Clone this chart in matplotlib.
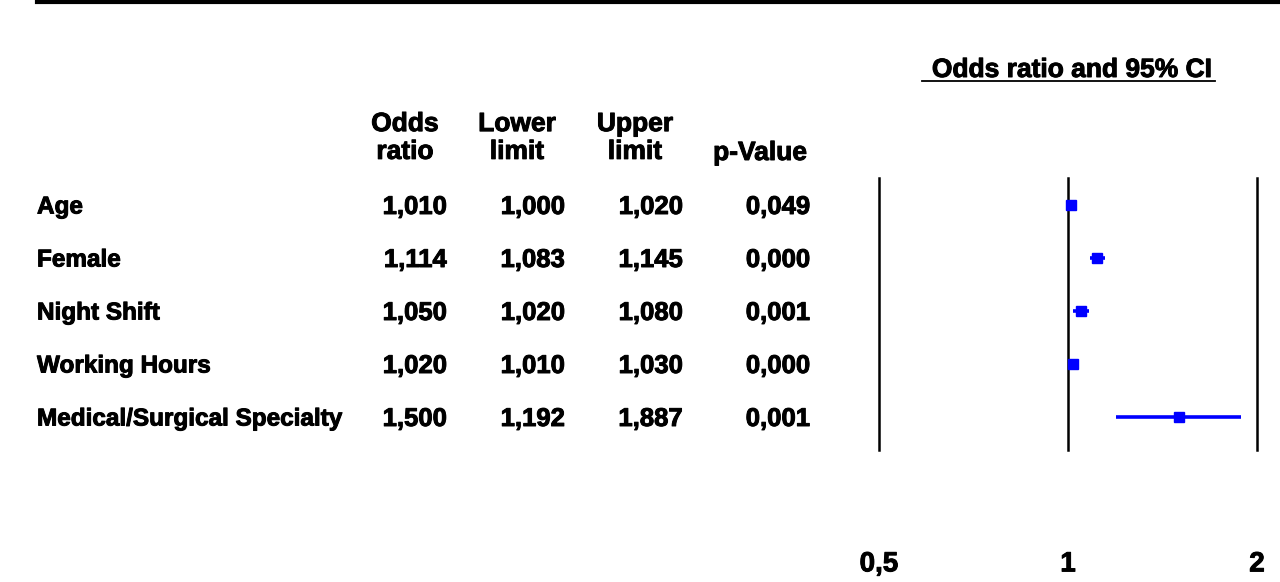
import matplotlib.pyplot as plt
import matplotlib.patheffects as pe

plt.rcParams['font.family'] = ['Liberation Sans', 'DejaVu Sans']
plt.rcParams['font.weight'] = 'bold'

# Data
variables = ["Age", "Female", "Night Shift", "Working Hours", "Medical/Surgical Specialty"]
odds_ratio = [1.010, 1.114, 1.050, 1.020, 1.500]
lower_limit = [1.000, 1.083, 1.020, 1.010, 1.192]
upper_limit = [1.020, 1.145, 1.080, 1.030, 1.887]
p_value = [0.049, 0.000, 0.001, 0.000, 0.001]
x_ticks = [0.5, 1, 2]
x_tick_labels = ["0,5", "1", "2"]


def fmt(v):
    return f"{v:.3f}".replace(".", ",")


W, H = 1280, 582
fig = plt.figure(figsize=(W / 100, H / 100), dpi=100)


def fx(px):
    return px / W


def fy(py):
    return 1 - py / H


fs_lab = 17.5
fs_num = 18.5
fs_head = 19
heavy = [pe.withStroke(linewidth=0.7, foreground='black')]

# top rule
fig.add_artist(plt.Line2D([fx(37), 1], [fy(1.5), fy(1.5)], color='black', lw=3))

# title with underline
fig.text(fx(1072), fy(70), "Odds ratio and 95% CI", ha='center', va='center',
         fontsize=fs_head, path_effects=heavy)
fig.add_artist(plt.Line2D([fx(922), fx(1215)], [fy(81), fy(81)], color='black', lw=1.3))

# column headers
headers = [("Odds\nratio", 405), ("Lower\nlimit", 517), ("Upper\nlimit", 635)]
for txt, cx in headers:
    fig.text(fx(cx), fy(138), txt, ha='center', va='center', fontsize=fs_head,
             linespacing=1.2, path_effects=heavy)
fig.text(fx(760), fy(153), "p-Value", ha='center', va='center', fontsize=fs_head,
         path_effects=heavy)

# table rows
row_y0, row_dy = 205, 53
for i, name in enumerate(variables):
    y = fy(row_y0 + 2 + row_dy * i)
    fig.text(fx(37), y, name, ha='left', va='center', fontsize=fs_lab, path_effects=heavy)
    fig.text(fx(447), y, fmt(odds_ratio[i]), ha='right', va='center', fontsize=fs_num, path_effects=heavy)
    fig.text(fx(565), y, fmt(lower_limit[i]), ha='right', va='center', fontsize=fs_num, path_effects=heavy)
    fig.text(fx(683), y, fmt(upper_limit[i]), ha='right', va='center', fontsize=fs_num, path_effects=heavy)
    fig.text(fx(810), y, fmt(p_value[i]), ha='right', va='center', fontsize=fs_num, path_effects=heavy)

# forest plot axes
left, right, top, bottom = 879, 1257, 178, 450
ax = fig.add_axes([fx(left), fy(bottom), fx(right - left), fy(top) - fy(bottom)])
ax.set_xscale('log')
ax.set_xlim(0.5, 2)
ax.set_ylim((bottom - row_y0) / row_dy, (top - row_y0) / row_dy)
for v in x_ticks:
    ax.axvline(v, color='black', lw=1.8, clip_on=False)

rows = list(range(len(variables)))
xerr = [[o - l for o, l in zip(odds_ratio, lower_limit)],
        [u - o for o, u in zip(odds_ratio, upper_limit)]]
ax.errorbar(odds_ratio, rows, xerr=xerr, fmt='s', color='#0000ff', ecolor='#0000ff',
            elinewidth=2.6, markersize=6.5, capsize=0)

for s in ax.spines.values():
    s.set_visible(False)
ax.set_yticks([])
ax.set_xticks(x_ticks)
ax.set_xticklabels(x_tick_labels)
ax.minorticks_off()
ax.tick_params(axis='x', length=0, pad=73, labelsize=20)
for t in ax.get_xticklabels():
    t.set_path_effects(heavy)

fig.savefig("out.png", dpi=100, facecolor='white')
